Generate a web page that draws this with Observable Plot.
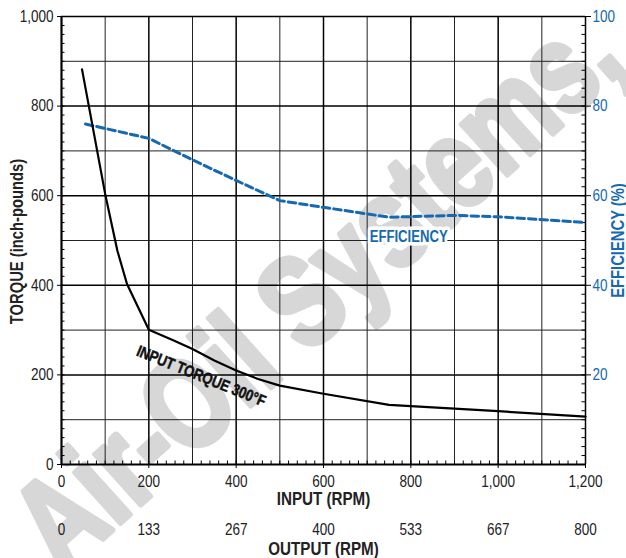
<!DOCTYPE html>
<html><head><meta charset="utf-8">
<script src="https://cdn.jsdelivr.net/npm/d3@7"></script>
<script src="https://cdn.jsdelivr.net/npm/@observablehq/plot@0.6"></script>
<style>body{margin:0;background:#fff}</style>
</head><body><div id="chart"></div>
<script>
// ---- data ----
const torqueRpm = [47, 100, 128, 150, 200, 257, 300, 350, 400, 450, 500, 600, 750, 1000, 1200];
const torqueVal = [882, 604, 477, 403, 301, 277, 258, 232, 210, 191, 176, 158, 133, 119, 107];
const effRpm = [55, 200, 300, 400, 500, 600, 750, 900, 1000, 1200];
const effVal = [76, 72.8, 68, 63.4, 58.9, 57.4, 55.2, 55.6, 55.3, 54];
const inputTicks = [0, 200, 400, 600, 800, 1000, 1200];
const inputTickLabels = ["0", "200", "400", "600", "800", "1,000", "1,200"];
const outputTickLabels = ["0", "133", "267", "400", "533", "667", "800"];
const torqueTicks = [0, 200, 400, 600, 800, 1000];
const torqueTickLabels = ["0", "200", "400", "600", "800", "1,000"];
const effTicks = [20, 40, 60, 80, 100];
const effTickLabels = ["20", "40", "60", "80", "100"];
const effLabel = [{rpm: 795, eff: 50.8, text: "EFFICIENCY"}];
const torqueLabel = [{rpm: 320, torque: 197, text: "INPUT TORQUE 300°F"}];
const effScale = 10; // efficiency % -> torque axis units (100% = 1,000)

const torque = torqueRpm.map((r, i) => ({rpm: r, torque: torqueVal[i]}));
const eff = effRpm.map((r, i) => ({rpm: r, eff: effVal[i]}));

const gridMajorX = [200, 400, 600, 800, 1000];
const gridMinorX = [100, 300, 500, 700, 900, 1100];
const gridMajorY = [200, 400, 600, 800];
const gridMinorY = [100, 300, 500, 700, 900];
const minorTickY = d3.range(20, 1000, 20);
const minorTickX = d3.range(20, 1200, 20);

const font = "'Liberation Sans','Arial',sans-serif";
const blue = "#1469b0";
const W = 626, H = 558, ML = 61, MR = 41, MT = 16, MB = 94;
const FW = W - ML - MR, FH = H - MT - MB;

const chart = Plot.plot({
  width: W, height: H,
  marginLeft: ML, marginRight: MR, marginTop: MT, marginBottom: MB,
  style: {fontFamily: font, background: "#fff", color: "#222"},
  x: {domain: [0, 1200]},
  y: {domain: [0, 1000]},
  marks: [
    // watermark
    Plot.text(["Air-Oil Systems,"], {frameAnchor: "top-right", dx: 15, dy: 19, rotate: -42,
      textAnchor: "end", lineAnchor: "middle", fontSize: 128, fontWeight: "bold", fill: "#d7d7d7",
      stroke: "#d7d7d7", strokeWidth: 6, strokeLinejoin: "round", className: "wm"}),
    // grid
    Plot.ruleX(gridMinorX, {stroke: "#222", strokeWidth: 1}),
    Plot.ruleX(gridMajorX, {stroke: "#000", strokeWidth: 1.5}),
    Plot.ruleY(gridMinorY, {stroke: "#222", strokeWidth: 1}),
    Plot.ruleY(gridMajorY, {stroke: "#000", strokeWidth: 1.5}),
    // minor ticks (inward)
    Plot.ruleY(minorTickY, {insetRight: FW - 3.5, stroke: "#000", strokeWidth: 1}),
    Plot.ruleY(minorTickY, {insetLeft: FW - 3.5, stroke: "#000", strokeWidth: 1}),
    Plot.ruleX(minorTickX, {insetTop: FH - 3.5, stroke: "#000", strokeWidth: 1}),
    // frame
    Plot.ruleY([1000], {stroke: "#000", strokeWidth: 1.5}),
    Plot.ruleX([1200], {stroke: "#000", strokeWidth: 1.5}),
    Plot.ruleX([0], {stroke: "#000", strokeWidth: 2.2}),
    Plot.ruleY([0], {stroke: "#000", strokeWidth: 2.2}),
    // series
    Plot.line(eff, {x: "rpm", y: d => d.eff * effScale, stroke: blue, strokeWidth: 3, strokeDasharray: "7.5,4"}),
    Plot.line(torque, {x: "rpm", y: "torque", stroke: "#000", strokeWidth: 2.2}),
    // annotations
    Plot.text(effLabel, {x: "rpm", y: d => d.eff * effScale, text: "text", fill: blue, fontSize: 16,
      fontWeight: "bold", stroke: "#fff", strokeWidth: 7, paintOrder: "stroke"}),
    Plot.text(torqueLabel, {x: "rpm", y: "torque", text: "text", fill: "#111", fontSize: 16,
      fontWeight: "bold", rotate: 22, stroke: "#111", strokeWidth: 0.5}),
    // axes
    Plot.axisY(torqueTicks, {anchor: "left", tickSize: 4, tickPadding: 4, fontSize: 16.5, fill: "#222",
      stroke: "#000", tickFormat: (d, i) => torqueTickLabels[i], label: null}),
    Plot.axisY(effTicks.map(d => d * effScale), {anchor: "right", tickSize: 5, tickPadding: 2, fontSize: 16.5,
      fill: blue, stroke: "#000", tickFormat: (d, i) => effTickLabels[i], label: null}),
    Plot.axisX(inputTicks, {anchor: "bottom", tickSize: 4, tickPadding: 7, fontSize: 16.5, fill: "#222",
      stroke: "#000", tickFormat: (d, i) => inputTickLabels[i], label: null}),
    Plot.axisX(inputTicks, {anchor: "bottom", tickSize: 0, tickPadding: 59, fontSize: 16.5, fill: "#222",
      tickFormat: (d, i) => outputTickLabels[i], label: null}),
    // axis titles
    Plot.text(["INPUT (RPM)"], {frameAnchor: "bottom", dy: 27.5, lineAnchor: "top", textAnchor: "middle",
      fontSize: 18.5, fontWeight: "bold", fill: "#222"}),
    Plot.text(["OUTPUT (RPM)"], {frameAnchor: "bottom", dy: 77, lineAnchor: "top", textAnchor: "middle",
      fontSize: 18.5, fontWeight: "bold", fill: "#222"}),
    Plot.text(["TORQUE (inch-pounds)"], {frameAnchor: "left", dx: -44, dy: 1, rotate: -90, textAnchor: "middle",
      fontSize: 18, fontWeight: "bold", fill: "#222"}),
    Plot.text(["EFFICIENCY (%)"], {frameAnchor: "right", dx: 33, rotate: -90, textAnchor: "middle",
      fontSize: 18, fontWeight: "bold", fill: blue})
  ]
});
document.getElementById("chart").appendChild(chart);
// condense glyphs to mimic the narrow typeface of the original
d3.select(chart).selectAll("text").each(function () {
  const len = this.getComputedTextLength();
  const k = this.closest(".wm") ? 0.77 : 0.82;
  if (len > 0) {
    this.setAttribute("textLength", (len * k).toFixed(2));
    this.setAttribute("lengthAdjust", "spacingAndGlyphs");
  }
});
</script>
</body></html>
